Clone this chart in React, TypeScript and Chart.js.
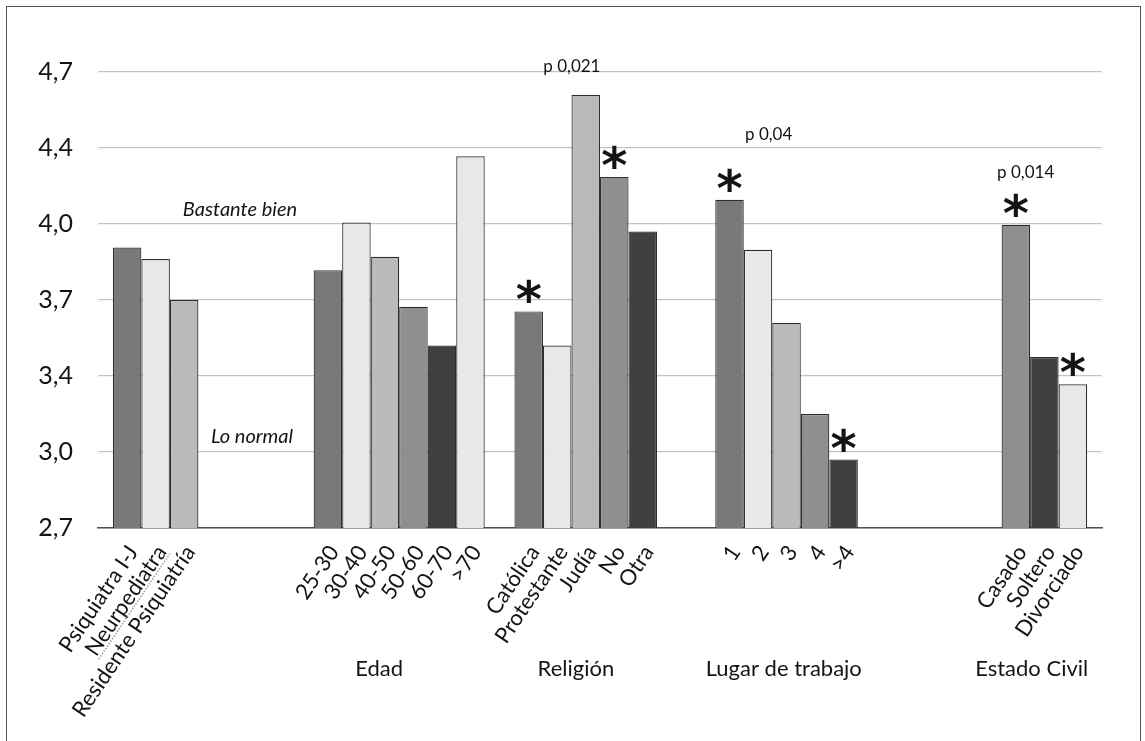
import React, { useEffect, useRef } from "react";
import { Chart, registerables } from "chart.js";

Chart.register(...registerables);

// Grupos del eje X (el primero no lleva título)
const groups = ["", "Edad", "Religión", "Lugar de trabajo", "Estado Civil"];

// Puntuación media por subgrupo (una serie por posición dentro del grupo)
const serie1 = [3.93, 3.83, 3.65, 4.14, null];
const serie2 = [3.88, 4.04, 3.5, 3.92, null];
const serie3 = [3.7, 3.89, 4.6, 3.6, null];
const serie4 = [null, 3.67, 4.24, 3.2, 4.03];
const serie5 = [null, 3.5, 4.0, 3.0, 3.45];
const serie6 = [null, 4.33, null, null, 3.33];

// Etiqueta de cada barra
const labels1 = ["Psiquiatra I-J", "25-30", "Católica", "1", ""];
const labels2 = ["Neurpediatra", "30-40", "Protestante", "2", ""];
const labels3 = ["Residente Psiquiatría", "40-50", "Judía", "3", ""];
const labels4 = ["", "50-60", "No", "4", "Casado"];
const labels5 = ["", "60-70", "Otra", ">4", "Soltero"];
const labels6 = ["", ">70", "", "", "Divorciado"];

// Diferencias significativas: [serie, grupo]
const significant = [
  [0, 2],
  [3, 2],
  [0, 3],
  [4, 3],
  [3, 4],
  [5, 4],
];

// Valores p por grupo
const pLabels = ["p 0,021", "p 0,04", "p 0,014"];
const pGroups = [2, 3, 4];

// Eje Y
const yMin = 2.7;
const yMax = 4.7;
const yTickLabels = ["2,7", "3,0", "3,4", "3,7", "4,0", "4,4", "4,7"];

const seriesData = [serie1, serie2, serie3, serie4, serie5, serie6];
const barLabels = [labels1, labels2, labels3, labels4, labels5, labels6];
const seriesColors = ["#797979", "#e8e8e8", "#bababa", "#8f8f8f", "#404040", "#e8e8e8"];

const TEXT = "#141414";
const FONT = "Lato, 'Open Sans', sans-serif";

// Posición de los textos sueltos (en unidades de categoría / valor)
const pPos = [
  { dx: -0.14, v: 4.726 },
  { dx: -0.16, v: 4.424 },
  { dx: 0.12, v: 4.257 },
];
const titleDx = [0, -0.1, -0.12, -0.085, 0.15];

const annotate = {
  id: "annotate",
  afterDatasetsDraw(chart: any) {
    const { ctx } = chart;
    const x = chart.scales.x;
    const y = chart.scales.y;
    ctx.save();
    ctx.fillStyle = TEXT;

    // etiquetas giradas bajo cada barra
    chart.data.datasets.forEach((_ds: any, si: number) => {
      const meta = chart.getDatasetMeta(si);
      meta.data.forEach((bar: any, gi: number) => {
        const txt = barLabels[si][gi];
        if (!txt) return;
        ctx.save();
        ctx.translate(bar.x + 6, y.bottom + 20);
        ctx.rotate((-56 * Math.PI) / 180);
        ctx.font = `22px ${FONT}`;
        ctx.textAlign = "right";
        ctx.textBaseline = "middle";
        ctx.fillText(txt, 0, 0);
        if (txt === "Neurpediatra") {
          // subrayado punteado del corrector
          const w = ctx.measureText(txt).width;
          ctx.strokeStyle = "#9c9c9c";
          ctx.lineWidth = 1.5;
          ctx.setLineDash([1.5, 1.5]);
          ctx.beginPath();
          ctx.moveTo(-w, 10);
          ctx.lineTo(0, 10);
          ctx.stroke();
        }
        ctx.restore();
      });
    });

    // títulos de grupo
    ctx.font = `22px ${FONT}`;
    ctx.textAlign = "center";
    ctx.textBaseline = "middle";
    groups.forEach((g, gi) => {
      if (!g) return;
      ctx.fillText(g, x.getPixelForValue(gi + titleDx[gi]), 669);
    });

    // asteriscos
    ctx.font = `bold 50px 'DejaVu Sans', sans-serif`;
    ctx.textAlign = "center";
    ctx.textBaseline = "alphabetic";
    const m = ctx.measureText("*");
    const asc = m.actualBoundingBoxAscent;
    const desc = m.actualBoundingBoxDescent;
    significant.forEach(([si, gi]) => {
      const bar = chart.getDatasetMeta(si).data[gi];
      const cy = bar.y - 20;
      ctx.fillText("*", bar.x, cy + (asc - desc) / 2);
    });

    // valores p
    ctx.font = `17px ${FONT}`;
    ctx.textBaseline = "middle";
    pLabels.forEach((p, i) => {
      ctx.fillText(p, x.getPixelForValue(pGroups[i] + pPos[i].dx), y.getPixelForValue(pPos[i].v));
    });

    // notas de la escala
    ctx.font = `italic 20px ${FONT}`;
    ctx.fillText("Bastante bien", x.getPixelForValue(0.207), y.getPixelForValue(4.095));
    ctx.fillText("Lo normal", x.getPixelForValue(0.267), y.getPixelForValue(3.1));

    ctx.restore();
  },
};

export default function App() {
  const canvasRef = useRef<HTMLCanvasElement | null>(null);

  useEffect(() => {
    const canvas = canvasRef.current;
    if (!canvas) return;
    const chart = new Chart(canvas, {
      type: "bar",
      data: {
        labels: groups,
        datasets: seriesData.map((d, i) => ({
          label: `Serie ${i + 1}`,
          data: d,
          backgroundColor: seriesColors[i],
          borderColor: "#2e2e2e",
          borderWidth: 1.2,
          borderSkipped: false,
          barPercentage: 1,
          categoryPercentage: 0.852,
        })),
      },
      options: {
        responsive: false,
        animation: false,
        devicePixelRatio: 1,
        layout: { padding: { left: 0, right: 43, top: 72, bottom: 0 } },
        plugins: {
          legend: { display: false },
          tooltip: { enabled: false },
          title: { display: false },
        },
        scales: {
          x: {
            grid: { display: false, drawTicks: false },
            border: { display: true, color: "#505050", width: 1.6 },
            ticks: { display: false },
            afterFit: (s: any) => {
              s.height = 213;
            },
          },
          y: {
            min: yMin,
            max: yMax,
            afterBuildTicks: (s: any) => {
              s.ticks = yTickLabels.map((_l, i) => ({
                value: yMin + ((yMax - yMin) * i) / (yTickLabels.length - 1),
              }));
            },
            afterFit: (s: any) => {
              s.width = 98;
            },
            grid: { color: "#c3c3c3", lineWidth: 1.2, drawTicks: false },
            border: { display: false },
            ticks: {
              padding: 25,
              color: TEXT,
              font: { family: FONT, size: 25 },
              callback: (_v: any, i: number) => yTickLabels[i],
            },
          },
        },
      },
      plugins: [annotate],
    });
    return () => chart.destroy();
  }, []);

  return (
    <div
      style={{
        position: "fixed",
        left: 0,
        top: 0,
        width: 1145,
        height: 741,
        overflow: "hidden",
        background: "#fff",
      }}
    >
      <div
        style={{
          position: "absolute",
          left: 6,
          top: 6,
          width: 1135,
          height: 800,
          border: "1.5px solid #555",
          boxSizing: "border-box",
        }}
      />
      <canvas
        ref={canvasRef}
        width={1145}
        height={741}
        style={{ position: "absolute", left: 0, top: 0, width: 1145, height: 741 }}
      />
    </div>
  );
}
